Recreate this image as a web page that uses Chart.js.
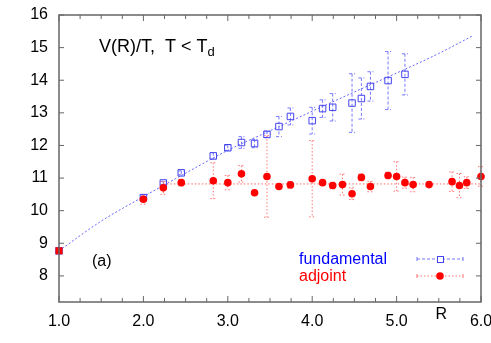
<!DOCTYPE html>
<html>
<head>
<meta charset="utf-8">
<script src="https://cdn.jsdelivr.net/npm/chart.js@4.4.0/dist/chart.umd.min.js"></script>
<style>
  html, body { margin: 0; padding: 0; background: #fff; }
</style>
</head>
<body>
<canvas id="myChart" width="491" height="343"></canvas>
<script>
// Fundamental potential V(R)/T with errors
let fundR   = [1.0, 2.0, 2.236, 2.449, 2.828, 3.0, 3.162, 3.317, 3.464, 3.606, 3.742, 4.0, 4.123, 4.243, 4.472, 4.583, 4.690, 4.899, 5.099];
let fundV   = [8.77, 10.4, 10.85, 11.16, 11.68, 11.93, 12.09, 12.06, 12.34, 12.58, 12.89, 12.76, 13.13, 13.17, 13.3, 13.44, 13.81, 13.99, 14.18];
let fundErr = [0, 0.05, 0.05, 0.06, 0.1, 0.08, 0.18, 0.13, 0.1, 0.31, 0.26, 0.41, 0.27, 0.42, 0.9, 0.63, 0.45, 0.89, 0.63];

// Adjoint potential
let adjR   = [1.0, 2.0, 2.236, 2.449, 2.828, 3.0, 3.162, 3.317, 3.464, 3.606, 3.742, 4.0, 4.123, 4.243, 4.359, 4.472, 4.583, 4.690, 4.899, 5.0, 5.099, 5.196, 5.385, 5.657, 5.745, 5.831, 6.0];
let adjV   = [8.77, 10.35, 10.7, 10.86, 10.92, 10.86, 11.13, 10.55, 11.05, 10.74, 10.79, 10.98, 10.86, 10.77, 10.8, 10.52, 11.02, 10.74, 11.08, 11.05, 10.86, 10.8, 10.8, 10.89, 10.77, 10.86, 11.05];
let adjErr = [0, 0.15, 0.2, 0.1, 0.55, 0.22, 0.25, 0, 1.25, 0.05, 0.1, 1.17, 0.05, 0.1, 0.32, 0.18, 0.1, 0.16, 0.1, 0.45, 0.17, 0.22, 0.05, 0.3, 0.37, 0.18, 0.3];

// Fit curves
let fitR = [1.0, 1.5, 2.0, 2.5, 3.0, 3.5, 4.0, 4.5, 5.0, 5.5, 5.9];
let fitV = [8.77, 9.68, 10.43, 11.15, 11.85, 12.45, 13.05, 13.64, 14.22, 14.82, 15.36];
let adjFitR = [2.236, 6.0];
let adjFitV = [10.82, 10.82];

let xTicks = [1, 2, 3, 4, 5, 6];
let yTicks = [8, 9, 10, 11, 12, 13, 14, 15, 16];

const FONT = 'Liberation Sans, Arial, sans-serif';
const toPts = (xs, ys) => xs.map((v, i) => ({x: v, y: ys[i]}));

// error bars, drawn under the markers
const errorBars = {
  id: 'errorBars',
  beforeDatasetsDraw(chart) {
    const {ctx, scales: {x, y}} = chart;
    chart.data.datasets.forEach(ds => {
      if (!ds.errors) return;
      ctx.save();
      ctx.strokeStyle = ds.errorColor;
      ctx.lineWidth = 1;
      ctx.setLineDash(ds.errorDash);
      ds.data.forEach((p, i) => {
        const e = ds.errors[i];
        if (!e) return;
        const px = x.getPixelForValue(p.x);
        const top = y.getPixelForValue(p.y + e);
        const bot = y.getPixelForValue(p.y - e);
        ctx.beginPath();
        ctx.moveTo(px, top); ctx.lineTo(px, bot);
        ctx.moveTo(px - 3, top); ctx.lineTo(px + 3, top);
        ctx.moveTo(px - 3, bot); ctx.lineTo(px + 3, bot);
        ctx.stroke();
      });
      ctx.restore();
    });
  }
};

// frame, inward ticks and texts (gnuplot look)
const decor = {
  id: 'decor',
  afterDraw(chart) {
    const {ctx, chartArea: a, scales: {x, y}} = chart;
    ctx.save();
    ctx.strokeStyle = '#666';
    ctx.lineWidth = 1.5;
    ctx.strokeRect(a.left, a.top, a.right - a.left, a.bottom - a.top);
    ctx.lineWidth = 1;
    ctx.beginPath();
    for (let v = 1; v <= 6.001; v += 0.25) {
      const px = x.getPixelForValue(v);
      const len = Math.abs(v - Math.round(v)) < 0.01 ? 6 : 4;
      ctx.moveTo(px, a.bottom); ctx.lineTo(px, a.bottom - len);
      ctx.moveTo(px, a.top); ctx.lineTo(px, a.top + len);
    }
    yTicks.forEach(v => {
      const py = y.getPixelForValue(v);
      ctx.moveTo(a.left, py); ctx.lineTo(a.left + 5, py);
      ctx.moveTo(a.right, py); ctx.lineTo(a.right - 5, py);
    });
    ctx.stroke();

    ctx.fillStyle = '#000';
    ctx.textBaseline = 'alphabetic';
    ctx.textAlign = 'left';
    ctx.font = '18px ' + FONT;
    const t = 'V(R)/T,  T < T';
    ctx.fillText(t, 99, 52);
    const w = ctx.measureText(t).width;
    ctx.font = '13px ' + FONT;
    ctx.fillText('d', 99 + w, 56);
    ctx.font = '16px ' + FONT;
    ctx.fillText('(a)', 92, 266);
    ctx.textAlign = 'center';
    ctx.fillText('R', x.getPixelForValue(5.53), 319);

    // legend
    ctx.textAlign = 'left';
    ctx.fillStyle = '#0000ff';
    ctx.fillText('fundamental', 299, 264);
    ctx.fillStyle = '#ff0000';
    ctx.fillText('adjoint', 299, 281);

    ctx.lineWidth = 1;
    ctx.strokeStyle = '#7777ff';
    ctx.setLineDash([3, 2]);
    ctx.beginPath();
    ctx.moveTo(417, 259); ctx.lineTo(463, 259);
    ctx.stroke();
    ctx.setLineDash([]);
    ctx.beginPath();
    ctx.moveTo(417, 257); ctx.lineTo(417, 261);
    ctx.moveTo(463, 257); ctx.lineTo(463, 261);
    ctx.stroke();
    ctx.fillStyle = '#fff';
    ctx.fillRect(437.5, 256.5, 6, 6);
    ctx.strokeStyle = '#4444ee';
    ctx.strokeRect(437.5, 256.5, 6, 6);

    ctx.strokeStyle = '#ff7777';
    ctx.setLineDash([1.5, 2]);
    ctx.beginPath();
    ctx.moveTo(417, 276); ctx.lineTo(463, 276);
    ctx.stroke();
    ctx.setLineDash([]);
    ctx.beginPath();
    ctx.moveTo(417, 274); ctx.lineTo(417, 278);
    ctx.moveTo(463, 274); ctx.lineTo(463, 278);
    ctx.stroke();
    ctx.fillStyle = '#ff0000';
    ctx.beginPath();
    ctx.arc(440, 276, 3.8, 0, Math.PI * 2);
    ctx.fill();
    ctx.restore();
  }
};

let data = {
  datasets: [
    {
      type: 'line',
      data: toPts(fitR, fitV),
      borderColor: '#6666ff',
      borderWidth: 1,
      borderDash: [2, 2],
      pointRadius: 0,
      tension: 0.4,
      cubicInterpolationMode: 'monotone',
      order: 5
    },
    {
      type: 'line',
      data: toPts(adjFitR, adjFitV),
      borderColor: '#ff6666',
      borderWidth: 1,
      borderDash: [1.5, 2],
      pointRadius: 0,
      order: 4
    },
    {
      label: 'fundamental',
      data: toPts(fundR, fundV),
      errors: fundErr,
      errorColor: '#7777ff',
      errorDash: [3, 2],
      pointStyle: 'rect',
      pointRadius: 4.6,
      borderColor: '#4444ee',
      backgroundColor: 'rgba(255,255,255,0)',
      borderWidth: 1,
      showLine: false,
      order: 2
    },
    {
      label: 'adjoint',
      data: toPts(adjR, adjV),
      errors: adjErr,
      errorColor: '#ff7777',
      errorDash: [1.5, 2],
      pointStyle: ctx => ctx.dataIndex === 0 ? 'rect' : 'circle',
      pointRadius: ctx => ctx.dataIndex === 0 ? 5 : 3.8,
      borderColor: '#ff0000',
      backgroundColor: '#ff0000',
      borderWidth: 0,
      showLine: false,
      order: 1
    }
  ]
};

const config = {
  type: 'scatter',
  data: data,
  plugins: [errorBars, decor],
  options: {
    responsive: false,
    animation: false,
    devicePixelRatio: 1,
    clip: false,
    layout: { padding: { left: 0, top: 15, right: 10, bottom: 0 } },
    plugins: { legend: { display: false }, tooltip: { enabled: false } },
    scales: {
      x: {
        type: 'linear',
        min: 1, max: 6,
        afterBuildTicks: s => { s.ticks = xTicks.map(v => ({value: v})); },
        afterFit: s => { s.height = 41; s.paddingLeft = 0; s.paddingRight = 0; },
        grid: { display: false, drawTicks: false },
        border: { display: false },
        ticks: {
          font: { family: FONT, size: 16 },
          color: '#000',
          padding: 10,
          maxRotation: 0,
          callback: v => Number(v).toFixed(1)
        }
      },
      y: {
        type: 'linear',
        min: 7.2, max: 16,
        afterBuildTicks: s => { s.ticks = yTicks.map(v => ({value: v})); },
        afterFit: s => { s.width = 59; s.paddingTop = 0; s.paddingBottom = 0; },
        grid: { display: false, drawTicks: false },
        border: { display: false },
        ticks: {
          font: { family: FONT, size: 16 },
          color: '#000',
          padding: 11
        }
      }
    }
  }
};

const theChart = new Chart(document.getElementById('myChart').getContext('2d'), config);
</script>
</body>
</html>
